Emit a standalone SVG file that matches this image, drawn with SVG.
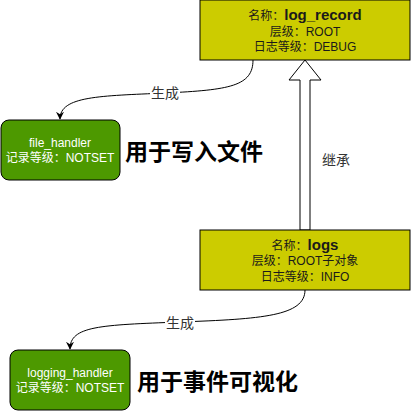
<svg xmlns="http://www.w3.org/2000/svg" width="412" height="412" viewBox="0 0 412 412">
<defs>
<style>
text{font-family:"Liberation Sans","Noto Sans CJK SC",sans-serif;}
.yb{fill:#CCCC00;stroke:#000;stroke-width:1;}
.gb{fill:#4D9900;stroke:#000;stroke-width:1;}
.yt{font-size:12px;fill:#1a1a1a;text-anchor:middle;}
.big{font-weight:bold;font-size:15px;}
.gt{font-size:12px;fill:#fff;text-anchor:middle;}
.note{font-size:23px;font-weight:bold;fill:#000;}
.lbl{font-size:14px;fill:#333;text-anchor:middle;}
.edge{fill:none;stroke:#000;stroke-width:1;}
</style>
<marker id="ah" viewBox="0 0 10 10" refX="9" refY="5" markerWidth="8" markerHeight="8" markerUnits="userSpaceOnUse" orient="auto">
<path d="M0,0 L10,5 L0,10 L3,5 Z" fill="#000"/>
</marker>
</defs>
<rect width="412" height="412" fill="#fff"/>
<g id="connectors">
<path class="edge" d="M253,60 C253,86 230,90 165,93 C100,96 60,96 60,119" marker-end="url(#ah)"/>
<rect x="150" y="84" width="30" height="18" fill="#fff"/>
<text class="lbl" x="165" y="98">生成</text>
<path class="edge" d="M305,290 C305,316 262,319 180,322 C100,325 70,326 70,349" marker-end="url(#ah)"/>
<rect x="165" y="313" width="30" height="18" fill="#fff"/>
<text class="lbl" x="180" y="328">生成</text>
<polygon points="300,230 300,80 289,80 305,60 321,80 310,80 310,230" fill="#fff" stroke="#000" stroke-width="1"/>
<text class="lbl" x="336" y="165">继承</text>
</g>
<g id="log_record">
<rect class="yb" x="200" y="0" width="210" height="60"/>
<text class="yt" x="305" y="20">名称：<tspan class="big">log_record</tspan></text>
<text class="yt" x="305" y="36">层级：ROOT</text>
<text class="yt" x="305" y="51">日志等级：DEBUG</text>
</g>
<g id="logs">
<rect class="yb" x="200" y="230" width="210" height="60"/>
<text class="yt" x="305" y="250">名称：<tspan class="big">logs</tspan></text>
<text class="yt" x="305" y="265">层级：ROOT子对象</text>
<text class="yt" x="305" y="281">日志等级：INFO</text>
</g>
<g id="file_handler">
<rect class="gb" x="1" y="120" width="119" height="60" rx="8" ry="8"/>
<text class="gt" x="60" y="147">file_handler</text>
<text class="gt" x="60" y="162">记录等级：NOTSET</text>
</g>
<g id="logging_handler">
<rect class="gb" x="10" y="350" width="120" height="60" rx="8" ry="8"/>
<text class="gt" x="70" y="377">logging_handler</text>
<text class="gt" x="70" y="392">记录等级：NOTSET</text>
</g>
<g id="note1">
<text class="note" x="125" y="160">用于写入文件</text>
</g>
<g id="note2">
<text class="note" x="137" y="390">用于事件可视化</text>
</g>
</svg>
